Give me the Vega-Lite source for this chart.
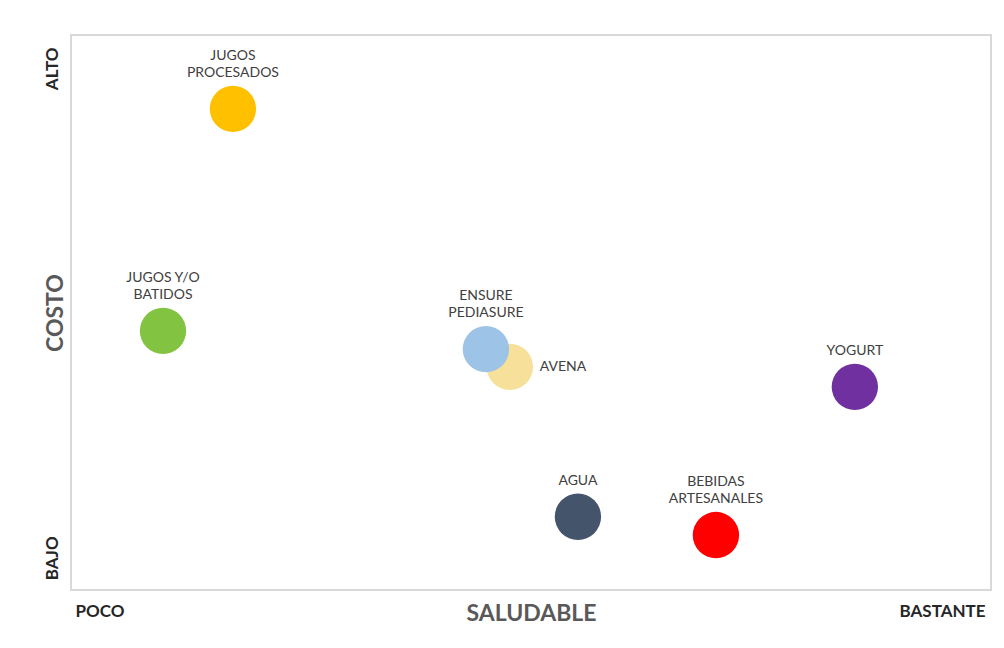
{
  "$schema": "https://vega.github.io/schema/vega-lite/v6.json",
  "autosize": "none",
  "width": 920,
  "height": 555,
  "padding": {"left": 71, "top": 35, "right": 13, "bottom": 58},
  "background": "white",
  "config": {
    "view": {"stroke": "#D9D9D9", "strokeWidth": 2},
    "font": "Lato",
    "text": {"lineBreak": "\n"}
  },
  "data": {
    "values": [
      {"item": "AVENA", "x": 4.77, "y": 4.02, "label": "AVENA", "pos": "right"},
      {"item": "JUGOS PROCESADOS", "x": 1.76, "y": 8.67, "label": "JUGOS\nPROCESADOS", "pos": "top2"},
      {"item": "JUGOS Y/O BATIDOS", "x": 1.0, "y": 4.67, "label": "JUGOS Y/O\nBATIDOS", "pos": "top2"},
      {"item": "ENSURE PEDIASURE", "x": 4.51, "y": 4.34, "label": "ENSURE\nPEDIASURE", "pos": "top2"},
      {"item": "YOGURT", "x": 8.52, "y": 3.66, "label": "YOGURT", "pos": "top1"},
      {"item": "AGUA", "x": 5.51, "y": 1.32, "label": "AGUA", "pos": "top1"},
      {"item": "BEBIDAS ARTESANALES", "x": 7.01, "y": 0.99, "label": "BEBIDAS\nARTESANALES", "pos": "top2"}
    ]
  },
  "encoding": {
    "x": {
      "field": "x", "type": "quantitative",
      "scale": {"domain": [0, 10], "nice": false, "zero": false},
      "axis": {
        "values": [0.043, 9.935],
        "labelExpr": "datum.value < 5 ? 'POCO' : 'BASTANTE'",
        "labelAlign": {"condition": {"test": "datum.value < 5", "value": "left"}, "value": "right"},
        "labelBaseline": "alphabetic",
        "labelPadding": 26,
        "labelFont": "Lato", "labelFontWeight": "bold", "labelFontSize": 17, "labelColor": "#262626",
        "domain": false, "ticks": false, "tickSize": 0, "grid": false,
        "title": "SALUDABLE",
        "titleFont": "Lato", "titleFontSize": 23, "titleFontWeight": "bold", "titleColor": "#595959",
        "titleX": 460, "titleY": 30, "titleAlign": "center", "titleBaseline": "alphabetic"
      }
    },
    "y": {
      "field": "y", "type": "quantitative",
      "scale": {"domain": [0, 10], "nice": false, "zero": false},
      "axis": {
        "values": [0.58, 9.4],
        "labelExpr": "datum.value > 5 ? 'ALTO' : 'BAJO'",
        "labelAngle": -90,
        "labelAlign": "center",
        "labelBaseline": "alphabetic",
        "labelPadding": 14,
        "labelFont": "Lato", "labelFontWeight": "bold", "labelFontSize": 17, "labelColor": "#262626",
        "domain": false, "ticks": false, "tickSize": 0, "grid": false,
        "title": "COSTO",
        "titleFont": "Lato", "titleFontSize": 23, "titleFontWeight": "bold", "titleColor": "#595959",
        "titleAngle": -90, "titleX": -9, "titleY": 277.5, "titleAlign": "center", "titleBaseline": "alphabetic"
      }
    }
  },
  "layer": [
    {
      "mark": {"type": "point", "shape": "circle", "filled": true, "size": 2150, "opacity": 1},
      "encoding": {
        "color": {
          "field": "item", "type": "nominal", "legend": null,
          "scale": {
            "domain": ["AVENA", "JUGOS PROCESADOS", "JUGOS Y/O BATIDOS", "ENSURE PEDIASURE", "YOGURT", "AGUA", "BEBIDAS ARTESANALES"],
            "range": ["#F7E09A", "#FFC000", "#82C341", "#9DC3E6", "#7030A0", "#44546A", "#FF0000"]
          }
        }
      }
    },
    {
      "transform": [{"filter": "datum.pos == 'top1'"}],
      "mark": {"type": "text", "baseline": "bottom", "align": "center", "dy": -29, "fontSize": 14, "lineHeight": 17, "color": "#404040", "font": "Lato"},
      "encoding": {"text": {"field": "label"}}
    },
    {
      "transform": [{"filter": "datum.pos == 'top2'"}],
      "mark": {"type": "text", "baseline": "bottom", "align": "center", "dy": -46, "fontSize": 14, "lineHeight": 17, "color": "#404040", "font": "Lato"},
      "encoding": {"text": {"field": "label"}}
    },
    {
      "transform": [{"filter": "datum.pos == 'right'"}],
      "mark": {"type": "text", "baseline": "middle", "align": "left", "dx": 30, "fontSize": 14, "color": "#404040", "font": "Lato"},
      "encoding": {"text": {"field": "label"}}
    }
  ]
}
